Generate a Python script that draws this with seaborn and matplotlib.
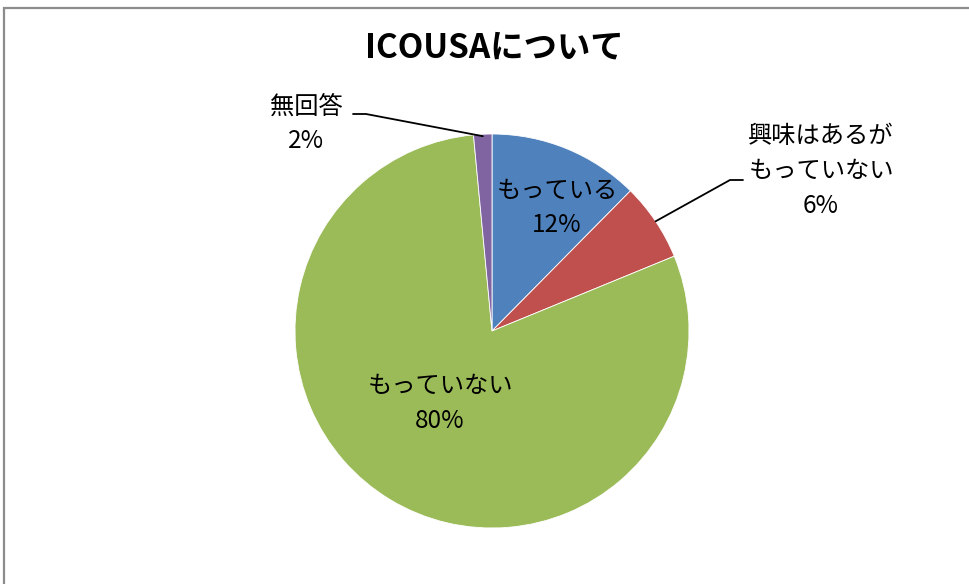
import numpy as np
import matplotlib
matplotlib.use("Agg")
import matplotlib.pyplot as plt
import seaborn as sns

# slice data, clockwise from 12 o'clock
categories = ["もっている", "興味はあるが\nもっていない", "もっていない", "無回答"]
shares = [12.4, 6.4, 79.7, 1.5]
colors = ["#4F81BD", "#C0504D", "#9BBB59", "#8064A2"]

sns.set_theme(style="white")
plt.rcParams["font.family"] = ["Noto Sans CJK JP", "DejaVu Sans"]

W, H = 969, 584
fig = plt.figure(figsize=(W / 100, H / 100), dpi=100)

# chart border (only top and left visible in the crop)
frame = plt.Rectangle((3.5 / W, -0.2), 1.2, 1.2 - 8 / H, transform=fig.transFigure,
                      fill=False, edgecolor="#8c8c8c", linewidth=1.6, clip_on=False)
fig.patches.append(frame)

# pie centre (492, 331) px, radius 197 px
cx, cy, r = 492, 331, 197
ax = fig.add_axes([(cx - r) / W, (H - cy - r) / H, 2 * r / W, 2 * r / H])
wedges, _ = ax.pie(shares, colors=colors, startangle=90, counterclock=False,
                   wedgeprops=dict(edgecolor="white", linewidth=0.6))
ax.set_xlim(-1, 1)
ax.set_ylim(-1, 1)
ax.set_aspect("equal")
ax.axis("off")


def px(x, y):
    return (x - cx) / r, (cy - y) / r


pct = [f"{round(v)}%" for v in shares]
label_pos = [(557, 208), (821, 171), (440, 403), (306, 124)]
for name, p, (x, y) in zip(categories, pct, label_pos):
    ax.text(*px(x, y), f"{name}\n{p}", ha="center", va="center", fontsize=17.5,
            linespacing=1.45, color="black", clip_on=False)


def edge_point(w, frac=1.0):
    ang = np.deg2rad((w.theta1 + w.theta2) / 2)
    return frac * np.cos(ang), frac * np.sin(ang)


# leader lines for the outside labels
ex, ey = edge_point(wedges[3], 0.99)
ax.plot([px(353, 114)[0], px(366, 114)[0], ex], [px(353, 114)[1], px(366, 114)[1], ey],
        color="black", linewidth=1.3, clip_on=False)
ex, ey = edge_point(wedges[1], 1.0)
ax.plot([px(743, 180)[0], px(730, 180)[0], ex], [px(743, 180)[1], px(730, 180)[1], ey],
        color="black", linewidth=1.3, clip_on=False)

fig.text(494 / W, 1 - 48 / H, "ICOUSAについて", ha="center", va="center",
         fontsize=24, fontweight="bold", color="black")

fig.savefig("out.png", dpi=100)
